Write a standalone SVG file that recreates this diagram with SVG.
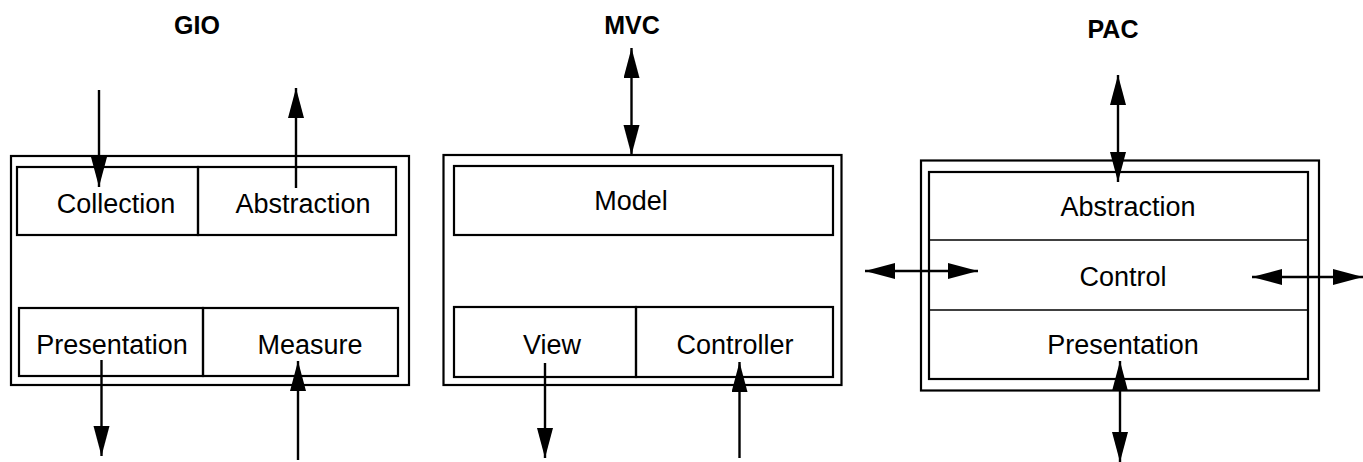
<svg xmlns="http://www.w3.org/2000/svg" width="1363" height="462" viewBox="0 0 1363 462">
<style>
.frame{fill:none;stroke:#000;stroke-width:2.2}
.box{fill:none;stroke:#000;stroke-width:2.2}
.div{fill:none;stroke:#000;stroke-width:1.6}
.lbl{font-family:"Liberation Sans",Arial,sans-serif;font-size:27px;fill:#000;text-anchor:middle}
.ttl{font-family:"Liberation Sans",Arial,sans-serif;font-size:25px;font-weight:bold;fill:#000;text-anchor:middle}
.con{fill:none;stroke:#000;stroke-width:2.4}
</style>
<defs>
<marker id="ah" markerUnits="userSpaceOnUse" markerWidth="31" markerHeight="18" refX="30" refY="8" orient="auto-start-reverse">
<path d="M0,0 L30,8 L0,16 z" fill="#000"/>
</marker>
</defs>
<rect width="1363" height="462" fill="#fff"/>
<g id="titles">
<text class="ttl" x="197" y="34">GIO</text>
<text class="ttl" x="632" y="34">MVC</text>
<text class="ttl" x="1113" y="38">PAC</text>
</g>
<g id="gio-frame"><rect class="frame" x="11" y="156" width="398" height="229"/></g>
<g id="gio-collection"><rect class="box" x="17" y="167" width="181" height="68"/><text class="lbl" x="116" y="213">Collection</text></g>
<g id="gio-abstraction"><rect class="box" x="198" y="167" width="198" height="68"/><text class="lbl" x="303" y="213">Abstraction</text></g>
<g id="gio-presentation"><rect class="box" x="19" y="308" width="184" height="68"/><text class="lbl" x="112" y="354">Presentation</text></g>
<g id="gio-measure"><rect class="box" x="203" y="308" width="195" height="68"/><text class="lbl" x="310" y="354">Measure</text></g>
<g id="mvc-frame"><rect class="frame" x="443.5" y="155" width="398" height="230"/></g>
<g id="mvc-model"><rect class="box" x="454" y="166" width="379" height="69"/><text class="lbl" x="631" y="210">Model</text></g>
<g id="mvc-view"><rect class="box" x="454" y="307" width="182" height="70"/><text class="lbl" x="552" y="354">View</text></g>
<g id="mvc-controller"><rect class="box" x="636" y="307" width="197" height="70"/><text class="lbl" x="735" y="354">Controller</text></g>
<g id="pac-frame"><rect class="frame" x="921" y="160.5" width="398" height="230"/><rect class="box" x="929" y="172" width="379" height="207"/></g>
<g id="pac-abstraction"><text class="lbl" x="1128" y="216">Abstraction</text></g>
<g id="pac-control"><line class="div" x1="929" y1="240" x2="1308" y2="240"/><text class="lbl" x="1123" y="286">Control</text></g>
<g id="pac-presentation"><line class="div" x1="929" y1="310" x2="1308" y2="310"/><text class="lbl" x="1123" y="354">Presentation</text></g>
<g id="connectors">
<line class="con" x1="99" y1="90" x2="99" y2="187" marker-end="url(#ah)"/>
<line class="con" x1="296" y1="188" x2="296" y2="88" marker-end="url(#ah)"/>
<line class="con" x1="101.5" y1="360" x2="101.5" y2="456" marker-end="url(#ah)"/>
<line class="con" x1="298" y1="460" x2="298" y2="361" marker-end="url(#ah)"/>
<line class="con" x1="631.5" y1="48" x2="631.5" y2="155" marker-start="url(#ah)" marker-end="url(#ah)"/>
<line class="con" x1="545" y1="363" x2="545" y2="458" marker-end="url(#ah)"/>
<line class="con" x1="739.5" y1="458" x2="739.5" y2="362" marker-end="url(#ah)"/>
<line class="con" x1="1118" y1="75" x2="1118" y2="182" marker-start="url(#ah)" marker-end="url(#ah)"/>
<line class="con" x1="1120" y1="361" x2="1120" y2="462" marker-start="url(#ah)" marker-end="url(#ah)"/>
<line class="con" x1="865" y1="271" x2="978" y2="271" marker-start="url(#ah)" marker-end="url(#ah)"/>
<line class="con" x1="1252" y1="277" x2="1363" y2="277" marker-start="url(#ah)" marker-end="url(#ah)"/>
</g>
</svg>
